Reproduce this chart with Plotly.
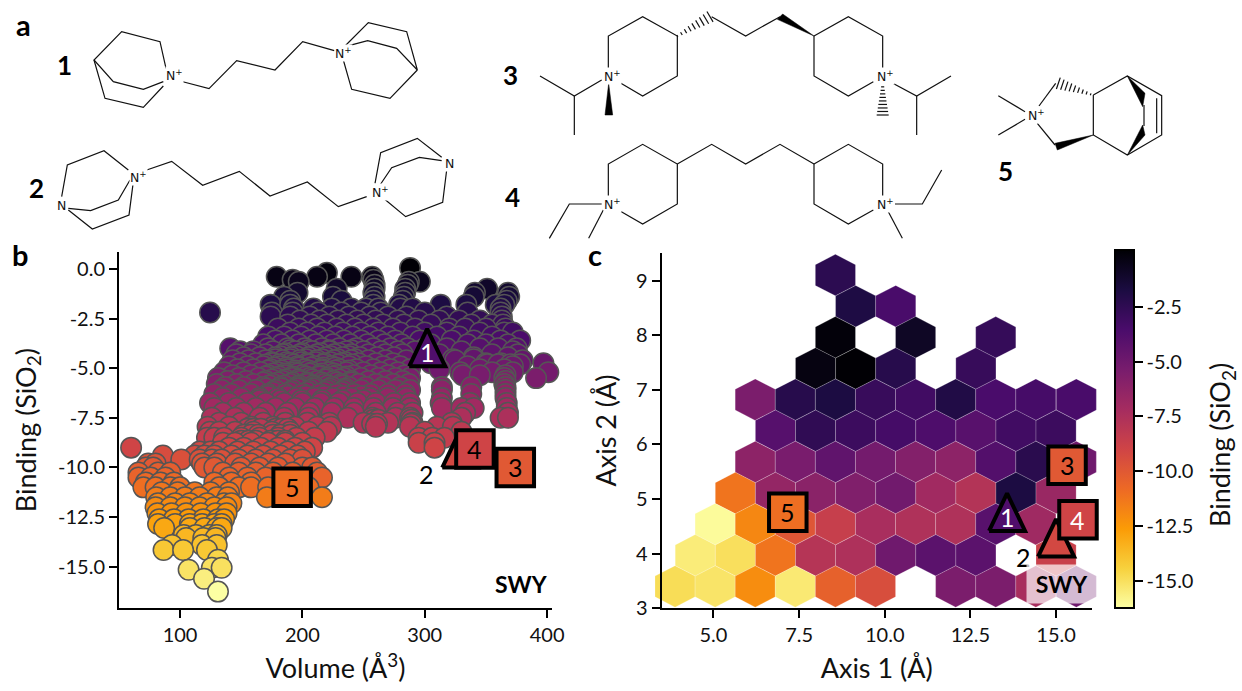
import plotly.graph_objects as go
from plotly.colors import sequential, sample_colorscale

W, H = 1242, 691
FONT = "Lato"
CMIN, CMAX = -16.26, 0.09
SCALE = sequential.Inferno_r

# ---------- panel b: Volume / Binding, read row by row
binding_levels = [0.05, -0.2, -0.4, -0.55, -0.65, -0.8, -1.0, -1.2, -1.4, -1.6, -1.8, -2.0, -2.2, -2.4, -2.6, -2.8,
                  -3.0, -3.2, -3.4, -3.6, -3.8, -4.0, -4.15, -4.3, -4.45, -4.6, -4.75, -4.9, -5.05, -5.2, -5.35,
                  -5.5, -5.65, -5.8, -5.95, -6.1, -6.3, -6.5, -6.75, -7.0, -7.25, -7.5, -7.75, -7.95, -8.2, -8.5,
                  -8.75, -9.0, -9.2, -9.4, -9.6, -9.8, -10.0, -10.25, -10.5, -10.75, -11.0, -11.25, -11.5, -11.8,
                  -12.0, -12.3, -12.6, -12.85, -13.05, -13.4, -13.55, -13.9, -14.15, -14.65, -15.05, -15.15, -15.6, -16.25]
volume_rows = [
    [288], [220], [179, 212, 240, 257], [258, 192], [296, 287, 197], [259, 286],
    [259, 228, 284, 351], [196, 258, 284, 341, 368], [185, 259, 225, 283, 340, 369],
    [190, 258, 282, 232, 367], [174, 190, 313, 334, 358, 365, 258, 279],
    [193, 209, 224, 240, 252, 262, 280, 290, 362],
    [124.5, 175, 192, 213, 232, 248, 264, 300, 335, 362],
    [174, 190, 206, 222, 238, 255, 270, 285, 318, 363],
    [198, 214, 229, 245, 260, 278, 295, 312, 328, 345, 363],
    [188, 207, 220, 236, 250, 266, 283, 305, 338, 355, 364],
    [180, 197, 212, 228, 243, 258, 274, 292, 320, 333, 350, 366],
    [190, 204, 218, 233, 248, 262, 280, 300, 318, 345, 365, 372],
    [172, 185, 199, 213, 227, 241, 255, 270, 290, 310, 328, 355],
    [178, 192, 206, 220, 234, 248, 262, 276, 296, 322, 340, 362, 378],
    [168, 183, 197, 211, 225, 239, 253, 267, 281, 305, 335, 350, 368],
    [141, 172, 188, 202, 216, 230, 244, 258, 272, 286, 300, 318, 345, 360, 375],
    [149, 160, 176, 194, 208, 222, 236, 250, 264, 278, 292, 330, 372],
    [146, 158, 170, 184, 198, 212, 226, 240, 254, 268, 282, 312, 355, 376],
    [152, 165, 178, 191, 205, 219, 233, 247, 261, 275, 340, 368],
    [143, 156, 170, 184, 198, 212, 226, 240, 254, 268, 285, 325, 380],
    [149, 162, 176, 190, 204, 218, 232, 246, 260, 274, 305, 350, 362, 397],
    [140, 155, 168, 182, 196, 210, 224, 238, 252, 266, 280, 335, 372],
    [147, 160, 174, 188, 202, 216, 230, 244, 258, 272, 288, 312, 345, 365],
    [136, 152, 166, 180, 194, 208, 222, 236, 250, 264, 278, 329, 355, 372, 401],
    [143, 158, 172, 186, 200, 214, 228, 242, 256, 270, 284, 331, 345, 366],
    [131, 148, 164, 178, 192, 206, 220, 234, 248, 262, 276, 288, 365, 391],
    [139, 154, 170, 184, 198, 212, 226, 240, 254, 268, 282, 366],
    [130, 146, 160, 176, 190, 204, 218, 232, 246, 260, 274, 287, 365],
    [137, 152, 168, 182, 196, 210, 224, 238, 252, 266, 280, 314, 338, 366],
    [134, 148, 162, 178, 192, 206, 220, 234, 248, 262, 276, 288, 314, 366],
    [128, 142, 158, 172, 186, 200, 214, 228, 242, 256, 270, 284, 338, 366],
    [135, 150, 165, 180, 195, 210, 225, 240, 255, 270, 285, 314, 366],
    [124.5, 140, 155, 170, 185, 200, 215, 230, 245, 260, 275, 288, 313, 337, 367],
    [128, 146, 162, 178, 194, 210, 226, 242, 258, 274, 288, 314, 330, 340, 367],
    [135, 152, 170, 188, 206, 224, 242, 260, 278, 290, 333, 368],
    [126, 145, 165, 185, 205, 237, 257, 276, 288, 330, 362, 368],
    [132, 150, 168, 186, 204, 222, 250, 270, 290, 322],
    [122.5, 140, 158, 176, 194, 212, 223.5, 260, 288, 310, 323],
    [124.5, 132, 145, 160, 175, 190, 205, 220, 300, 330],
    [122, 128, 136, 150, 165, 180, 195, 210, 295, 306, 316],
    [135, 145, 158, 172, 186, 200, 295, 308],
    [60, 140, 152, 166, 180, 194, 208, 308],
    [116, 125, 132, 147, 160, 174, 188, 202],
    [86, 112, 120, 128, 142, 155, 168, 182, 196],
    [101, 116, 126, 134, 148, 162, 176, 190, 200],
    [74, 80, 118, 130, 145, 158, 172, 186],
    [72, 78, 120, 128, 150, 165, 180, 200, 208],
    [66, 82, 92, 135, 148, 162, 176, 192, 212],
    [66, 76, 88, 140, 155, 170, 200, 216],
    [72, 84, 95, 128, 142, 158],
    [70, 80, 92, 100, 132, 148, 158, 172, 205],
    [85, 98, 112, 125, 140],
    [80.5, 92, 104, 116, 130, 139, 171, 216],
    [82, 96, 108, 122, 136, 142],
    [80, 92, 104, 116, 128, 138],
    [81.5, 93, 105, 117, 129, 138],
    [83, 95, 107, 119, 131, 136],
    [82, 96, 108, 118, 128, 134],
    [87, 108, 120, 130, 134],
    [103, 113, 124, 130],
    [105, 119, 129],
    [93.5, 118, 130],
    [86.5, 102.5, 122],
    [131], [126, 134], [107], [119.6], [131],
]
# the tightly packed centre of the cloud, its right arm, and the stacks under it
dense_levels = [-4.1, -4.25, -4.4, -4.55, -4.7, -4.8, -4.82, -4.97, -5.12, -5.27, -5.42, -5.57, -5.72, -5.87, -6.02,
                -6.2, -6.4, -6.62, -7.6, -7.8, -8.05, -8.35, -8.65]
dense_rows = [
    [190, 205, 222, 240],
    [186, 200, 215, 230],
    [182, 195, 209, 223, 238],
    [178, 190, 203, 216, 229, 243, 323, 340],
    [175, 187, 199, 211, 223, 235],
    [351, 360, 370, 378],
    [170, 181, 193, 205, 217, 229, 241],
    [177, 187, 197, 207, 217, 227],
    [172, 183, 194, 205, 216, 227, 238],
    [176, 186, 196, 206, 216, 226],
    [170, 181, 192, 203, 214, 225, 236],
    [175, 186, 197, 208, 219, 230],
    [168, 180, 192, 204, 216, 228, 240],
    [173, 185, 197, 209, 221, 233],
    [170, 183, 196, 209, 222, 235],
    [176, 190, 204, 218, 232],
    [172, 188, 203, 218, 233, 248],
    [165, 182, 199, 216, 233, 250],
    [258, 262, 289],
    [257, 261, 289],
    [155, 160, 166, 178, 183, 188],
    [152, 158, 164, 176, 182, 190],
    [150, 156, 162, 174, 180, 186],
]
pairs = [(b, v) for b, row in zip(binding_levels + dense_levels, volume_rows + dense_rows) for v in row]
pairs.sort(key=lambda p: -p[0])  # lower binding is painted over higher binding
binding = [p[0] for p in pairs]
volume = [p[1] for p in pairs]

# ---------- labelled candidates
square_labels = ["3", "4", "5"]
square_colour = [-10.0, -9.0, -11.0]
square_volume = [374, 341, 191.6]
square_binding = [-10.0, -9.07, -11.0]
square_axis1 = [15.32, 15.64, 7.17]
square_axis2 = [5.62, 4.62, 4.76]
square_text_b = ["black", "black", "black"]
square_text_c = ["black", "white", "black"]
triangle_labels = ["1", "2"]
triangle_colour = [-3.8, -9.2]
triangle_volume = [302, 329]
triangle_binding = [-4.4, -9.5]
triangle_axis1 = [13.57, 15.0]
triangle_axis2 = [4.6, 4.13]
TRI_HALF_W_PX, TRI_UP_PX, TRI_DOWN_PX = 18, 27.5, 10

# ---------- panel c: hexbin cells
hex_axis1 = [8.56, 9.15, 10.32, 8.56, 10.9, 13.24, 7.98, 9.15, 10.32, 12.66,
             6.22, 7.39, 8.56, 9.73, 10.9, 12.07, 13.24, 14.41, 15.59,
             6.81, 7.98, 9.15, 10.32, 11.49, 12.66, 13.83, 15.0,
             6.22, 7.39, 8.56, 9.73, 10.9, 12.07, 13.24, 14.41, 15.59,
             5.64, 6.81, 7.98, 9.15, 10.32, 11.49, 12.66, 13.83, 15.0,
             5.05, 6.22, 7.39, 8.56, 9.73, 10.9, 12.07, 13.24, 14.41,
             4.47, 5.64, 6.81, 7.98, 9.15, 10.32, 11.49, 12.66, 15.0,
             3.88, 5.05, 6.22, 7.39, 8.56, 9.73, 12.07, 13.24, 14.41, 15.59]
hex_axis2 = [9.10, 8.53, 8.53, 7.96, 7.96, 7.96, 7.39, 7.39, 7.39, 7.39,
             6.82, 6.82, 6.82, 6.82, 6.82, 6.82, 6.82, 6.82, 6.82,
             6.25, 6.25, 6.25, 6.25, 6.25, 6.25, 6.25, 6.25,
             5.68, 5.68, 5.68, 5.68, 5.68, 5.68, 5.68, 5.68, 5.68,
             5.11, 5.11, 5.11, 5.11, 5.11, 5.11, 5.11, 5.11, 5.11,
             4.54, 4.54, 4.54, 4.54, 4.54, 4.54, 4.54, 4.54, 4.54,
             3.97, 3.97, 3.97, 3.97, 3.97, 3.97, 3.97, 3.97, 3.97,
             3.40, 3.40, 3.40, 3.40, 3.40, 3.40, 3.40, 3.40, 3.40, 3.40]
hex_binding = [-2.4, -1.85, -3.5, -0.1, -0.9, -2.75, -0.3, 0.05, -2.2, -2.8,
               -5.5, -2.2, -1.75, -2.85, -3.2, -1.95, -3.55, -3.4, -3.5,
               -4.0, -2.55, -3.0, -3.35, -3.7, -4.1, -3.2, -3.0,
               -6.2, -5.4, -4.4, -5.2, -5.8, -6.2, -3.9, -2.3, -5.0,
               -11.2, -6.5, -6.1, -5.7, -5.1, -7.0, -7.8, -1.75, -6.7,
               -16.1, -11.9, -9.9, -8.6, -7.35, -7.6, -7.6, -4.1, -6.95,
               -15.5, -15.0, -11.2, -7.85, -7.55, -5.0, -4.2, -4.2, -8.7,
               -14.9, -15.2, -12.1, -15.4, -10.4, -9.5, -5.5, -5.5, -7.3, -5.0]
HEX_HALF_W, HEX_R = 0.5855, 0.38

# ---------- ticks
b_xticks = [100, 200, 300, 400]
b_yticks = [0, -2.5, -5, -7.5, -10, -12.5, -15]
b_yticklabels = ["0.0", "-2.5", "-5.0", "-7.5", "-10.0", "-12.5", "-15.0"]
c_xticks = [5, 7.5, 10, 12.5, 15]
c_xticklabels = ["5.0", "7.5", "10.0", "12.5", "15.0"]
c_yticks = [3, 4, 5, 6, 7, 8, 9]
cb_ticks = [-2.5, -5, -7.5, -10, -12.5, -15]
cb_ticklabels = ["-2.5", "-5.0", "-7.5", "-10.0", "-12.5", "-15.0"]

# ---------- panel a: skeletal formulas, in crop coordinates (origin, polylines)
mol_a_left = (0, 0, [
    [(498,205),(480,125),(365,95),(282,180),(340,245),(430,268),(490,245)],
    [(282,180),(315,295),(430,322),(490,258)],
    [(540,243),(627,266),(710,182),(825,210),(908,125),(1003,152)],
    [(1035,138),(1105,68),(1220,95),(1252,210),(1190,145),(1103,122),(1035,140)],
    [(1252,210),(1170,295),(1055,268),(1030,180)],
    [(385,510),(312,452),(202,495),(185,590)],
    [(205,625),(272,632),(355,600),(390,540)],
    [(205,630),(277,687),(387,645),(400,545)],
    [(440,510),(515,484),(608,556),(718,514),(810,588),(922,546),(1015,620),(1100,590)],
    [(1125,550),(1142,458),(1252,415),(1325,472)],
    [(1140,555),(1175,503),(1258,472),(1325,482)],
    [(1145,590),(1217,650),(1328,607),(1340,510)],
])
mol_a_mid = (490, 0, [
    [(355,210),(355,108),(458,50),(562,108),(562,228),(458,288),(385,245)],
    [(665,50),(767,108),(870,50)],
    [(972,108),(1075,50),(1178,108),(1178,210)],
    [(972,108),(972,228),(1075,288),(1150,245)],
    [(335,240),(253,288),(150,228)], [(253,288),(253,405)],
    [(1200,245),(1280,288),(1383,228)], [(1280,288),(1280,405)],
    [(355,595),(355,492),(458,433),(562,492),(562,612),(458,672),(385,630)],
    [(562,492),(665,433),(767,492),(870,433),(972,492)],
    [(972,492),(1075,433),(1178,492),(1178,595)],
    [(972,492),(972,612),(1075,672),(1150,630)],
    [(335,612),(238,612),(178,715)], [(340,630),(296,715)],
    [(1215,612),(1297,612),(1355,510)], [(1195,635),(1237,715)],
])
mol_a_right = (960, 50, [
    [(237,168),(287,100)],
    [(400,135),(502,78),(605,137),(605,255),(502,315),(400,255),(400,135)],
    [(590,145),(590,250)], [(552,165),(552,228)],
    [(115,137),(195,185)], [(115,255),(195,208)], [(232,220),(285,285)],
])
wedges = [
    (490, 0, [(972,108),(862,58),(878,42)]),
    (490, 0, [(356,250),(345,345),(368,345)]),
    (960, 50, [(502,78),(555,130),(548,170)]),
    (960, 50, [(502,315),(555,255),(548,225)]),
    (960, 50, [(400,255),(285,280),(292,300)]),
]
hashes = [
    (490, 0, (562,108), (660,50), 9),
    (490, 0, (1178,250), (1178,345), 10),
    (960, 50, (392,133), (295,100), 9),
]
mol_labels = [("N<sup>+</sup>",174,75),("N<sup>+</sup>",343,53),("N<sup>+</sup>",138,177),("N<sup>+</sup>",380,192),
              ("N",61,205),("N",449,163),("N<sup>+</sup>",612,76),("N<sup>+</sup>",885,76),
              ("N<sup>+</sup>",612,204),("N<sup>+</sup>",885,204),("N<sup>+</sup>",1036,115)]
compound_labels = [("1",64,65),("2",36,188),("3",510,75),("4",512,197),("5",1005,171)]
panel_letters = [("a",23,24),("b",20,254),("c",595,254)]


def domain_x(a, b):
    return [a / W, b / W]


def domain_y(top, bottom):
    return [1 - bottom / H, 1 - top / H]


def colour_of(v):
    return sample_colorscale(SCALE, [(v - CMIN) / (CMAX - CMIN)])[0]


fig = go.Figure()
MARK_LINE = 4

# pixel layout and scales
BX_L, BX_R, BY_T, BY_B = 119, 552, 252, 608.3
BX0, BX1, BY0, BY1 = 50.1, 404, -17.09, 0.85
bsx = (BX_R - BX_L) / (BX1 - BX0)
bsy = (BY_B - BY_T) / (BY1 - BY0)
CX_L, CX_R, CY_T, CY_B = 661.7, 1091.7, 252.7, 608.3
CX0, CX1, CY0, CY1 = 3.49, 16.04, 3.0, 9.51
sx = (CX_R - CX_L) / (CX1 - CX0)
sy = (CY_B - CY_T) / (CY1 - CY0)
# hex cells and triangles use a wider hidden axis pair with identical scale, so they overhang the spines
HX_L, HX_R, HY_T, HY_B = 640, 1112, 240, 620

for x, y, v in zip(hex_axis1, hex_axis2, hex_binding):
    xs = [x, x + HEX_HALF_W, x + HEX_HALF_W, x, x - HEX_HALF_W, x - HEX_HALF_W, x]
    ys = [y + HEX_R, y + HEX_R / 2, y - HEX_R / 2, y - HEX_R, y - HEX_R / 2, y + HEX_R / 2, y + HEX_R]
    fig.add_trace(go.Scatter(x=xs, y=ys, mode="lines", fill="toself", fillcolor=colour_of(v),
                             line=dict(color="rgba(255,255,255,0.3)", width=0.7),
                             hoverinfo="skip", showlegend=False, xaxis="x2", yaxis="y2"))

# panel b scatter
fig.add_trace(go.Scatter(x=volume, y=binding, mode="markers", showlegend=False, cliponaxis=False,
                         marker=dict(size=20.5, color=binding, coloraxis="coloraxis", opacity=1,
                                     line=dict(color="#555555", width=1.5)),
                         xaxis="x", yaxis="y"))


def add_triangles(xs, ys, kx, ky, xa, ya):
    for x, y, v in zip(xs, ys, triangle_colour):
        dx, up, dn = TRI_HALF_W_PX / kx, TRI_UP_PX / ky, TRI_DOWN_PX / ky
        fig.add_trace(go.Scatter(x=[x - dx, x + dx, x, x - dx], y=[y - dn, y - dn, y + up, y - dn],
                                 mode="lines", fill="toself", fillcolor=colour_of(v),
                                 line=dict(color="black", width=MARK_LINE), cliponaxis=False,
                                 hoverinfo="skip", showlegend=False, xaxis=xa, yaxis=ya))


add_triangles(triangle_volume, triangle_binding, bsx, bsy, "x", "y")
add_triangles(triangle_axis1, triangle_axis2, sx, sy, "x2", "y2")

for xs, ys, xa, ya in [(square_volume, square_binding, "x", "y"), (square_axis1, square_axis2, "x3", "y3")]:
    fig.add_trace(go.Scatter(x=xs, y=ys, mode="markers", showlegend=False, cliponaxis=False,
                             marker=dict(size=37.5, symbol="square", color=square_colour, coloraxis="coloraxis",
                                         opacity=1, line=dict(color="black", width=MARK_LINE)),
                             xaxis=xa, yaxis=ya))

# skeletal formulas on a full-figure pixel axis
bx, by = [], []
for ox, oy, lines in (mol_a_left, mol_a_mid, mol_a_right):
    for line in lines:
        for zx, zy in line:
            bx.append(ox + zx / 3)
            by.append(oy + zy / 3)
        bx.append(None)
        by.append(None)
for ox, oy, (x0, y0), (x1, y1), n in hashes:
    dx, dy = x1 - x0, y1 - y0
    ln = (dx * dx + dy * dy) ** 0.5
    px, py = -dy / ln, dx / ln
    for i in range(n):
        t = i / (n - 1)
        half = 3 + 15 * t
        cx, cy = x0 + dx * t, y0 + dy * t
        bx += [ox + (cx - px * half) / 3, ox + (cx + px * half) / 3, None]
        by += [oy + (cy - py * half) / 3, oy + (cy + py * half) / 3, None]
fig.add_trace(go.Scatter(x=bx, y=by, mode="lines", line=dict(color="#111111", width=1.2),
                         hoverinfo="skip", showlegend=False, xaxis="x4", yaxis="y4"))
for ox, oy, pts in wedges:
    fig.add_trace(go.Scatter(x=[ox + p[0] / 3 for p in pts] + [ox + pts[0][0] / 3],
                             y=[oy + p[1] / 3 for p in pts] + [oy + pts[0][1] / 3],
                             mode="lines", fill="toself", fillcolor="black", line=dict(color="black", width=0.5),
                             hoverinfo="skip", showlegend=False, xaxis="x4", yaxis="y4"))

title_font = dict(family=FONT, size=27, color="#111111")
LABEL = 25

ann = []
for text, x, y in mol_labels:
    ann.append(dict(text=text, x=x, y=y, xref="x4", yref="y4", showarrow=False,
                    font=dict(family="DejaVu Sans", size=12.5, color="#111111"), bgcolor="white", borderpad=0))
for text, x, y in compound_labels:
    ann.append(dict(text=f"<b>{text}</b>", x=x, y=y, xref="x4", yref="y4", showarrow=False,
                    font=dict(family=FONT, size=26, color="black")))
for text, x, y in panel_letters:
    ann.append(dict(text=f"<b>{text}</b>", x=x, y=y, xref="x4", yref="y4", showarrow=False,
                    font=dict(family=FONT, size=29, color="black")))
for lab, x, y, tc in zip(square_labels, square_volume, square_binding, square_text_b):
    ann.append(dict(text=lab, x=x, y=y, xref="x", yref="y", showarrow=False, font=dict(family=FONT, size=LABEL, color=tc)))
for lab, x, y, tc in zip(square_labels, square_axis1, square_axis2, square_text_c):
    ann.append(dict(text=lab, x=x, y=y, xref="x3", yref="y3", showarrow=False, font=dict(family=FONT, size=LABEL, color=tc)))
ann.append(dict(text="1", x=triangle_volume[0], y=triangle_binding[0], xref="x", yref="y", showarrow=False, yshift=4,
                font=dict(family=FONT, size=LABEL, color="white")))
ann.append(dict(text="1", x=triangle_axis1[0], y=triangle_axis2[0], xref="x3", yref="y3", showarrow=False, yshift=4,
                font=dict(family=FONT, size=LABEL, color="white")))
ann.append(dict(text="2", x=triangle_volume[1], y=triangle_binding[1], xref="x", yref="y", showarrow=False,
                xshift=-34, yshift=-16, font=dict(family=FONT, size=LABEL, color="black")))
ann.append(dict(text="2", x=triangle_axis1[1], y=triangle_axis2[1], xref="x3", yref="y3", showarrow=False,
                xshift=-33, yshift=-10, font=dict(family=FONT, size=LABEL, color="black")))
ann.append(dict(text="<b>SWY</b>", x=521, y=584, xref="x4", yref="y4", showarrow=False,
                font=dict(family=FONT, size=23, color="black")))
ann.append(dict(text="<b>SWY</b>", x=1062, y=584, xref="x4", yref="y4", showarrow=False, width=70, height=38,
                bgcolor="rgba(255,255,255,0.7)", borderpad=0,
                font=dict(family=FONT, size=23, color="black")))
ann.append(dict(text="Binding (SiO<sub>2</sub>)", x=1221, y=445, xref="x4", yref="y4", showarrow=False, textangle=-90,
                font=title_font))

axis_common = dict(showline=True, linecolor="black", linewidth=2, ticks="outside", ticklen=8, tickwidth=1.5,
                   tickcolor="black", showgrid=False, zeroline=False, tickfont=dict(family=FONT, size=20, color="#111111"))

fig.update_layout(
    width=W, height=H, margin=dict(l=0, r=0, t=0, b=0, autoexpand=False), paper_bgcolor="white",
    plot_bgcolor="rgba(0,0,0,0)",
    font=dict(family=FONT, color="#111111"), showlegend=False,
    annotations=ann,
    coloraxis=dict(cmin=CMIN, cmax=CMAX, colorscale=[[i / (len(SCALE) - 1), c] for i, c in enumerate(SCALE)],
                   colorbar=dict(x=1115 / W, xanchor="left", y=1 - 608.3 / H, yanchor="bottom", xpad=0, ypad=0,
                                 len=(608.3 - 250.7) / H, lenmode="fraction", thickness=19, thicknessmode="pixels",
                                 outlinecolor="black", outlinewidth=2, ticks="outside", ticklen=8, tickwidth=1.5,
                                 tickcolor="black", tickvals=cb_ticks, ticktext=cb_ticklabels,
                                 tickfont=dict(family=FONT, size=20, color="#111111"))),
    xaxis=dict(domain=domain_x(BX_L, BX_R), range=[BX0, BX1], anchor="y", tickvals=b_xticks,
               title=dict(text="Volume (Å<sup>3</sup>)", font=title_font, standoff=14), **axis_common),
    yaxis=dict(domain=domain_y(BY_T, BY_B), range=[BY0, BY1], anchor="x", tickvals=b_yticks, ticktext=b_yticklabels,
               title=dict(text="Binding (SiO<sub>2</sub>)", font=title_font, standoff=14), **axis_common),
    xaxis2=dict(domain=domain_x(HX_L, HX_R), range=[CX0 - (CX_L - HX_L) / sx, CX1 + (HX_R - CX_R) / sx],
                anchor="y2", visible=False),
    yaxis2=dict(domain=domain_y(HY_T, HY_B), range=[CY0 - (HY_B - CY_B) / sy, CY1 + (CY_T - HY_T) / sy],
                anchor="x2", visible=False),
    xaxis3=dict(domain=domain_x(CX_L, CX_R), range=[CX0, CX1], anchor="y3", tickvals=c_xticks, ticktext=c_xticklabels,
                title=dict(text="Axis 1 (Å)", font=title_font, standoff=14), **axis_common),
    yaxis3=dict(domain=domain_y(CY_T, CY_B), range=[CY0, CY1], anchor="x3", tickvals=c_yticks,
                title=dict(text="Axis 2 (Å)", font=title_font, standoff=12), **axis_common),
    xaxis4=dict(domain=[0, 1], range=[0, W], anchor="y4", visible=False),
    yaxis4=dict(domain=[0, 1], range=[H, 0], anchor="x4", visible=False),
)

fig.write_html("out.html", config=dict(displayModeBar=False), post_script="document.body.style.margin='0';")
